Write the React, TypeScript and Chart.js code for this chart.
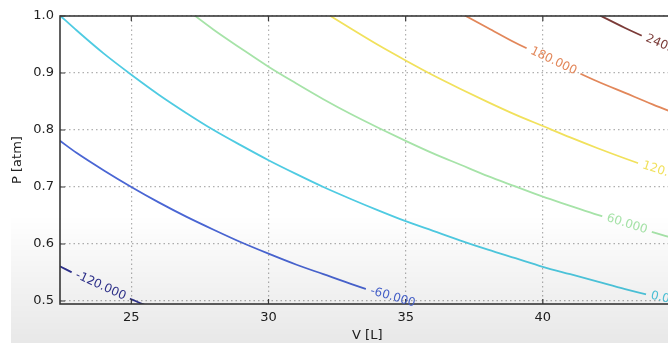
import React, { useEffect, useRef } from "react";
import { Chart, registerables } from "chart.js";
Chart.register(...registerables);

// Axis ticks
const xTicks = [25, 30, 35, 40];
const yTicks = [0.5, 0.6, 0.7, 0.8, 0.9, 1.0];
const xRange = [22.4, 44.8];
const yRange = [0.4947, 1.0];

// Isotherm temperatures (contour levels) and colours
const temps = [-120, -60, 0, 60, 120, 180, 240];
const lineColors = ["#2f3290", "#4a66d4", "#4fcbe2", "#a6e3a8", "#f1e15c", "#e2875a", "#7b3b38"];
// V position of each inline contour label
const labelV = [23.88, 34.53, 44.55, 43.07, 44.5, 40.39, 44.6];

// Isotherm points: volume [L] and pressure [atm]
const vN120 = [22.4, 23, 24, 25, 26];
const pN120 = [0.561, 0.546, 0.524, 0.503, 0.483];

const vN60 = [22.4, 23, 24, 25, 26, 27, 28, 29, 30, 31, 32, 33, 34, 35, 36];
const pN60 = [0.781, 0.76, 0.729, 0.7, 0.673, 0.648, 0.625, 0.603, 0.583, 0.564, 0.547, 0.53, 0.514, 0.5, 0.486];

const v0 = [22.4, 23, 24, 25, 26, 27, 28, 29, 30, 31, 32, 33, 34, 35, 36, 37, 38, 39, 40, 41, 42, 43, 44, 45];
const p0 = [1.001, 0.975, 0.934, 0.897, 0.862, 0.83, 0.8, 0.773, 0.747, 0.723, 0.7, 0.679, 0.659, 0.64, 0.623, 0.606, 0.59, 0.575, 0.56, 0.547, 0.534, 0.521, 0.509, 0.498];

const v60 = [27, 28, 29, 30, 31, 32, 33, 34, 35, 36, 37, 38, 39, 40, 41, 42, 43, 44, 45];
const p60 = [1.012, 0.976, 0.943, 0.911, 0.882, 0.854, 0.828, 0.804, 0.781, 0.759, 0.739, 0.719, 0.701, 0.683, 0.667, 0.651, 0.636, 0.621, 0.607];

const v120 = [32, 33, 34, 35, 36, 37, 38, 39, 40, 41, 42, 43, 44, 45];
const p120 = [1.008, 0.978, 0.949, 0.922, 0.896, 0.872, 0.849, 0.827, 0.807, 0.787, 0.768, 0.75, 0.733, 0.717];

const v180 = [37, 38, 39, 40, 41, 42, 43, 44, 45];
const p180 = [1.005, 0.979, 0.953, 0.93, 0.907, 0.885, 0.865, 0.845, 0.826];

const v240 = [42, 43, 44, 45];
const p240 = [1.003, 0.979, 0.957, 0.936];

const seriesV = [vN120, vN60, v0, v60, v120, v180, v240];
const seriesP = [pN120, pN60, p0, p60, p120, p180, p240];

const FONT = '"DejaVu Sans", sans-serif';
const LABEL_FONT = `12px ${FONT}`;

function labelGeometry(chart: any) {
  const { x, y } = chart.scales;
  const ctx = chart.ctx;
  ctx.save();
  ctx.font = LABEL_FONT;
  const out = temps.map((t, i) => {
    const vs = seriesV[i];
    const ps = seriesP[i];
    const v = labelV[i];
    let j = 0;
    while (j < vs.length - 2 && vs[j + 1] < v) j++;
    const f = (v - vs[j]) / (vs[j + 1] - vs[j]);
    const p = ps[j] + f * (ps[j + 1] - ps[j]);
    const px = x.getPixelForValue(v);
    const py = y.getPixelForValue(p);
    const ang = Math.atan2(
      y.getPixelForValue(ps[j + 1]) - y.getPixelForValue(ps[j]),
      x.getPixelForValue(vs[j + 1]) - x.getPixelForValue(vs[j])
    );
    const text = t.toFixed(3);
    const w = ctx.measureText(text).width;
    return { px, py, ang, text, w, color: lineColors[i] };
  });
  ctx.restore();
  return out;
}

const contourPlugin = {
  id: "contourDecor",
  beforeDatasetsDraw(chart: any) {
    const ctx = chart.ctx;
    const geo = labelGeometry(chart);
    ctx.save();
    ctx.beginPath();
    ctx.rect(0, 0, chart.width, chart.height);
    geo.forEach((g) => {
      const hw = g.w / 2 + 5;
      const hh = 7;
      const c = Math.cos(g.ang);
      const s = Math.sin(g.ang);
      const pts = [
        [-hw, -hh],
        [hw, -hh],
        [hw, hh],
        [-hw, hh],
      ].map(([a, b]) => [g.px + a * c - b * s, g.py + a * s + b * c]);
      ctx.moveTo(pts[0][0], pts[0][1]);
      for (let k = 1; k < 4; k++) ctx.lineTo(pts[k][0], pts[k][1]);
      ctx.closePath();
    });
    ctx.clip("evenodd");
  },
  afterDatasetsDraw(chart: any) {
    const ctx = chart.ctx;
    ctx.restore();
    const a = chart.chartArea;
    const { x, y } = chart.scales;
    // frame
    ctx.save();
    ctx.strokeStyle = "#3a3a3a";
    ctx.lineWidth = 1.6;
    ctx.strokeRect(a.left, a.top, a.right - a.left, a.bottom - a.top);
    // inward ticks
    ctx.lineWidth = 1.2;
    ctx.beginPath();
    xTicks.forEach((v) => {
      const px = x.getPixelForValue(v);
      ctx.moveTo(px, a.bottom);
      ctx.lineTo(px, a.bottom - 5);
      ctx.moveTo(px, a.top);
      ctx.lineTo(px, a.top + 5);
    });
    yTicks.forEach((v) => {
      const py = y.getPixelForValue(v);
      ctx.moveTo(a.left, py);
      ctx.lineTo(a.left + 5, py);
      ctx.moveTo(a.right, py);
      ctx.lineTo(a.right - 5, py);
    });
    ctx.stroke();
    ctx.restore();
    // labels
    const geo = labelGeometry(chart);
    geo.forEach((g) => {
      ctx.save();
      ctx.translate(g.px, g.py);
      ctx.rotate(g.ang);
      ctx.font = LABEL_FONT;
      ctx.fillStyle = g.color;
      ctx.textAlign = "center";
      ctx.textBaseline = "middle";
      ctx.fillText(g.text, 0, 0);
      ctx.restore();
    });
  },
};

export default function App() {
  const ref = useRef<HTMLCanvasElement | null>(null);
  useEffect(() => {
    if (!ref.current) return;
    const datasets = temps.map((t, i) => ({
      label: t.toFixed(3),
      data: seriesV[i].map((v, k) => ({ x: v, y: seriesP[i][k] })),
      borderColor: lineColors[i],
      backgroundColor: lineColors[i],
      borderWidth: 1.8,
      pointRadius: 0,
      cubicInterpolationMode: "monotone" as const,
      fill: false,
    }));
    const gridOpts = { color: "#b0b0b0", lineWidth: 1.2, drawTicks: false };
    const chart = new Chart(ref.current, {
      type: "line",
      data: { datasets },
      plugins: [contourPlugin],
      options: {
        animation: false,
        responsive: false,
        events: [],
        layout: { padding: { top: 16, right: 25.5, left: 0, bottom: 0 } },
        plugins: { legend: { display: false }, tooltip: { enabled: false } },
        scales: {
          x: {
            type: "linear",
            min: xRange[0],
            max: xRange[1],
            afterFit: (s: any) => {
              s.height = 39;
            },
            afterBuildTicks: (s: any) => {
              s.ticks = xTicks.map((v) => ({ value: v }));
            },
            ticks: {
              callback: (v: any) => String(v),
              font: { family: FONT, size: 13 },
              color: "#222",
              padding: 6,
              maxRotation: 0,
              autoSkip: false,
            },
            grid: gridOpts,
            border: { display: false, dash: [1.5, 3] },
            title: {
              display: true,
              text: "V [L]",
              font: { family: FONT, size: 13 },
              color: "#222",
              padding: { top: 0, bottom: 0 },
            },
          },
          y: {
            type: "linear",
            min: yRange[0],
            max: yRange[1],
            afterFit: (s: any) => {
              s.width = 60;
            },
            afterBuildTicks: (s: any) => {
              s.ticks = yTicks.map((v) => ({ value: v }));
            },
            ticks: {
              callback: (v: any) => Number(v).toFixed(1),
              font: { family: FONT, size: 13 },
              color: "#222",
              padding: 6,
              autoSkip: false,
            },
            grid: gridOpts,
            border: { display: false, dash: [1.5, 3] },
            title: {
              display: true,
              text: "P [atm]",
              font: { family: FONT, size: 13 },
              color: "#222",
              padding: { top: 10, bottom: 0 },
            },
          },
        },
      },
    });
    return () => chart.destroy();
  }, []);
  return (
    <div
      style={{
        position: "fixed",
        left: 0,
        top: 0,
        width: 668,
        height: 343,
        overflow: "hidden",
        background: "#fff",
      }}
    >
      <canvas ref={ref} width={700} height={343} style={{ display: "block" }} />
      <div
        style={{
          position: "absolute",
          left: 11,
          top: 215,
          width: 668,
          height: 128,
          pointerEvents: "none",
          background: "linear-gradient(to bottom, rgba(0,0,0,0) 0%, rgba(0,0,0,0.05) 55%, rgba(0,0,0,0.09) 100%)",
        }}
      />
    </div>
  );
}
